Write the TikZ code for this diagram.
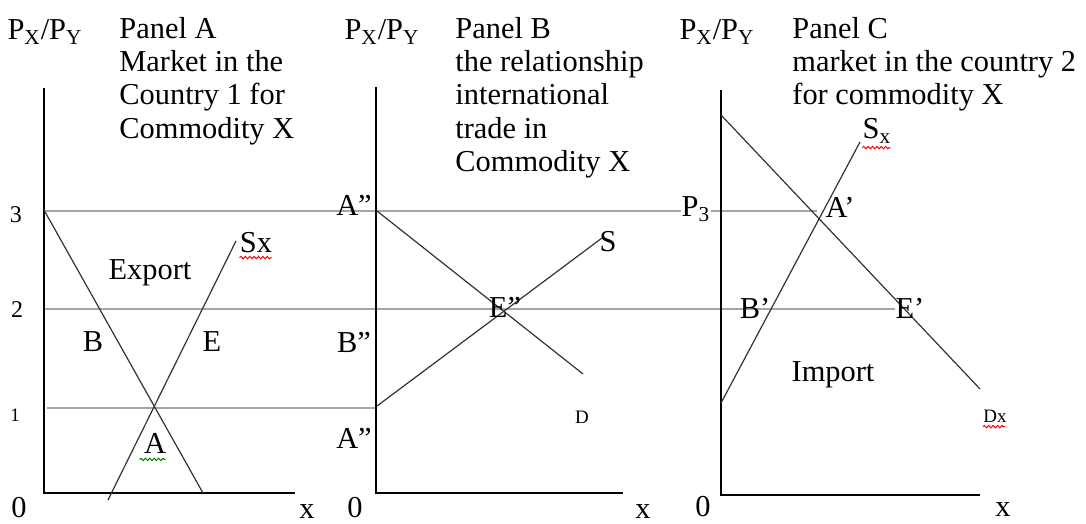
\documentclass[tikz,border=0pt]{standalone}
\usepackage{fontspec}
\setmainfont{Liberation Serif}
\usetikzlibrary{decorations.pathmorphing}

\begin{document}
\begin{tikzpicture}[x=0.5pt, y=-0.5pt,
  axis/.style={line width=0.75pt, black},
  curve/.style={line width=0.6pt, black!80},
  guide/.style={line width=0.9pt, black!35},
  lbl/.style={font=\fontsize{15.2}{16.6}\selectfont, inner sep=0pt},
  tick/.style={font=\fontsize{12}{12}\selectfont, inner sep=0pt},
  small/.style={font=\fontsize{9.5}{11}\selectfont, inner sep=0pt},
  title/.style={lbl, align=left, anchor=north west},
  spell/.style={red, line width=0.5pt, decorate,
    decoration={snake, amplitude=0.6pt, segment length=2.2pt}}
]
\useasboundingbox (0,0) rectangle (1086,524);

\coordinate (a-top) at (44,88);
\coordinate (a-end) at (295,493);
\coordinate (b-top) at (376,87);
\coordinate (b-end) at (623,493);
\coordinate (c-top) at (721,90);
\coordinate (c-end) at (980,495);

\coordinate (g3) at (44,211);
\coordinate (g3-end) at (817,211);
\coordinate (g2) at (44,309);
\coordinate (g2-end) at (895,309);
\coordinate (g1) at (47,408);
\coordinate (g1-end) at (377,408);

\coordinate (da1) at (44,210);
\coordinate (da2) at (203,493);
\coordinate (sa1) at (108,500);
\coordinate (sa2) at (236,241);
\coordinate (db1) at (377,211);
\coordinate (db2) at (583,374);
\coordinate (sb1) at (377,406);
\coordinate (sb2) at (602,238);
\coordinate (dc1) at (721,115);
\coordinate (dc2) at (980,389);
\coordinate (sc1) at (721,403);
\coordinate (sc2) at (860,142);

\node[lbl] (pa) at (45,32) {P\textsubscript{X}/P\textsubscript{Y}};
\node[lbl] (pb) at (382,32) {P\textsubscript{X}/P\textsubscript{Y}};
\node[lbl] (pc) at (717,32) {P\textsubscript{X}/P\textsubscript{Y}};
\node[title] (ta) at (119,17) {Panel A\\Market in the\\Country 1 for\\Commodity X};
\node[title] (tb) at (455,17) {Panel B\\the relationship\\international\\trade in\\Commodity X};
\node[title] (tc) at (792,17) {Panel C\\market in the country 2\\for commodity X};

\node[tick] (n3) at (16,215) {3};
\node[tick] (n2) at (17,310) {2};
\node[small] (n1) at (15,415) {1};
\node[lbl] (za) at (19,508) {0};
\node[lbl] (zb) at (355,508) {0};
\node[lbl] (zc) at (703,507) {0};
\node[lbl] (xa) at (307,512) {x};
\node[lbl] (xb) at (643,512) {x};
\node[lbl] (xc) at (1003,510) {x};
\node[lbl] (p3) at (696,209) {P\textsubscript{3}};

\draw[guide] (g3) -- (p3.west |- g3);
\draw[guide] (p3.east |- g3) -- (g3-end);
\draw[guide] (g2) -- (g2-end);
\draw[guide] (g1) -- (g1-end);

\draw[axis] (a-top) |- (a-end);
\draw[axis] (b-top) |- (b-end);
\draw[axis] (c-top) |- (c-end);

\draw[curve] (da1) -- (da2);
\draw[curve] (sa1) -- (sa2);
\draw[curve] (db1) -- (db2);
\draw[curve] (sb1) -- (sb2);
\draw[curve] (dc1) -- (dc2);
\draw[curve] (sc1) -- (sc2);

\node[lbl] (sxa) at (256,243) {Sx};
\node[lbl] (export) at (150,273) {Export};
\node[lbl] (ba) at (93,342) {B};
\node[lbl] (ea) at (212,342) {E};
\node[lbl] (aa) at (155,443) {A};

\node[lbl] (abt) at (354,205) {A”};
\node[lbl] (bb) at (354,342) {B”};
\node[lbl] (abb) at (354,438) {A”};
\node[lbl] (eb) at (505,307) {E”};
\node[lbl] (sb) at (608,242) {S};
\node[small] (db) at (582,417) {D};

\node[lbl] (sxc) at (877,131) {S\textsubscript{x}};
\node[lbl] (ac) at (840,207) {A’};
\node[lbl] (bc) at (755,308) {B’};
\node[lbl] (ec) at (910,308) {E’};
\node[lbl] (import) at (833,375) {Import};
\node[small] (dxc) at (995,416) {Dx};

\draw[spell] (sxa.south west) ++(0,4) -- ++(32,0);
\draw[spell, green!50!black] (aa.south west) ++(-4,6) -- ++(26,0);
\draw[spell] (sxc.south west) ++(0,4) -- ++(28,0);
\draw[spell] (dxc.south west) ++(0,4) -- ++(22,0);

\end{tikzpicture}
\end{document}
